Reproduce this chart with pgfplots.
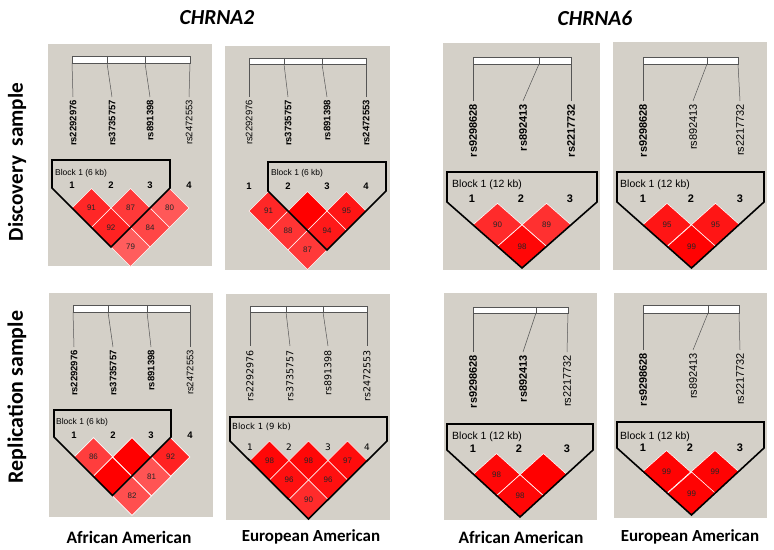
\documentclass[border=0pt]{standalone}
\usepackage{pgfplots}
\usepackage{pgfplotstable}
\pgfplotsset{compat=1.18}
\usepackage{fontspec}
\setmainfont{Carlito}
\newfontfamily\hv{Liberation Sans}
\newfontfamily\dv{DejaVu Sans}

\definecolor{hvgray}{RGB}{212,208,200}
\definecolor{hvline}{RGB}{85,85,85}

% D' x 100 for each marker pair, at the pair's diamond centre (pixel coords)
\pgfplotstableread{
x y t
91.5 208 91
130.5 208 87
169.5 208 80
111 227.5 92
150 227.5 84
130.5 247 79
}\tabA
\pgfplotstableread{
x y t
268.5 211 91
307.5 211 100
346.5 211 95
288 230.5 88
327 230.5 94
307.5 250 87
}\tabB
\pgfplotstableread{
x y t
497.5 224.8 90
546.5 224.8 89
522 246.4 98
}\tabC
\pgfplotstableread{
x y t
667 224.8 95
715.5 224.8 95
691.5 246.4 99
}\tabD
\pgfplotstableread{
x y t
93.5 457 86
132 457 100
170.5 457 92
112.5 476.5 100
151.5 476.5 81
132 496 82
}\tabE
\pgfplotstableread{
x y t
269.5 460.5 98
308.5 460.5 98
347.5 460.5 97
289 480 96
328 480 96
308.5 499.5 90
}\tabF
\pgfplotstableread{
x y t
496.5 474.6 98
543.5 474.6 100
520 495.8 98
}\tabG
\pgfplotstableread{
x y t
666.5 472 99
715 472 99
691.5 493.5 99
}\tabH

\newcommand\fsz[1]{\fontsize{#1}{#1}\selectfont}
% panel background, marker bar, bar separators, connector, rotated snp name, marker number
\newcommand\panel[4]{\fill[hvgray] (axis cs:#1,#2) rectangle (axis cs:#3,#4);}
\newcommand\snpbar[4]{\draw[hvline, fill=white, line width=0.6bp] (axis cs:#1,#2) rectangle (axis cs:#3,#4);}
\newcommand\barsep[3]{\draw[hvline, line width=0.6bp] (axis cs:#1,#2) -- (axis cs:#1,#3);}
\newcommand\conn[4]{\draw[hvline, line width=0.5bp] (axis cs:#1,#2) -- (axis cs:#3,#4);}
\newcommand\snp[4]{\node[rotate=90, anchor=east, inner sep=0pt, font=#4] at (axis cs:#1,#2) {#3};}
\newcommand\mk[4]{\node[inner sep=0pt, font=#4] at (axis cs:#1,#2) {#3};}
% block outline corners: name, left, right, top, side bottom, apex x, apex y
% (drawn after the axis, so that the outline lies over the diamonds)
\newcommand\block[7]{%
  \coordinate (#1a) at (axis cs:#2,#4); \coordinate (#1b) at (axis cs:#3,#4);
  \coordinate (#1c) at (axis cs:#3,#5); \coordinate (#1d) at (axis cs:#6,#7);
  \coordinate (#1e) at (axis cs:#2,#5);}
\newcommand\drawblock[1]{\draw[black, line width=1.6bp, line join=miter]
  (#1a) -- (#1b) -- (#1c) -- (#1d) -- (#1e) -- cycle;}
% diamonds coloured by D', then their labels (none where D' = 1)
\newcommand\ldplot[3]{%
  \addplot[only marks, scatter, mark=square*, mark size=#2,
    scatter/use mapped color={draw=white, fill=mapped color},
    every mark/.append style={line width=0.6bp, #3},
    point meta=explicit] table[x=x, y=y, meta=t] {#1};
  \addplot[draw=none, mark=none, point meta=explicit symbolic,
    nodes near coords={\ifnum\pgfplotspointmeta<100 \pgfplotspointmeta\fi},
    every node near coord/.append style={anchor=center, inner sep=0pt, text=black!85, font=\hv\fsz{8}}]
    table[x=x, y=y, meta=t] {#1};}

\newcommand\rb{\hv\bfseries\fsz{9.5}}
\newcommand\rr{\hv\fsz{9.5}}
\newcommand\Rb{\hv\bfseries\fsz{11}}
\newcommand\Rr{\hv\fsz{11}}

\begin{document}
\begin{tikzpicture}
\begin{axis}[
  x=1bp, y=1bp, y dir=reverse,
  xmin=0, xmax=774, ymin=0, ymax=550,
  scale only axis, hide axis, clip=false,
  colormap={hvld}{rgb255=(255,223,223) rgb255=(255,0,0)},
  point meta min=50, point meta max=100,
]
\fill[white] (axis cs:0,0) rectangle (axis cs:774,550);

% ---------------- titles
\node[font=\bfseries\itshape\fsz{21.5}] at (axis cs:217,18) {CHRNA2};
\node[font=\bfseries\itshape\fsz{21.5}] at (axis cs:595,18) {CHRNA6};
\node[rotate=90, font=\bfseries\fsz{21.3}] at (axis cs:17,162) {Discovery\ \ sample};
\node[rotate=90, font=\bfseries\fsz{22}] at (axis cs:17,397) {Replication sample};
\node[font=\bfseries\fsz{17.5}] at (axis cs:129,537) {African American};
\node[font=\bfseries\fsz{17}] at (axis cs:311,537) {European American};
\node[font=\bfseries\fsz{17.5}] at (axis cs:521,537) {African American};
\node[font=\bfseries\fsz{17}] at (axis cs:690,537) {European American};

% ---------------- panel 1: discovery, CHRNA2, African American
\panel{48}{44}{212}{266}
\snpbar{72}{56}{190}{63}
\barsep{107}{56}{63} \barsep{145}{56}{63}
\conn{72}{63}{73}{97} \conn{107}{63}{112}{97} \conn{145}{63}{150}{97} \conn{190}{63}{189}{97}
\snp{73}{100}{rs2292976}{\rb} \snp{112}{100}{rs3735757}{\rb}
\snp{150}{100}{rs891398}{\rb} \snp{189}{100}{rs2472553}{\rr}
\mk{72}{185}{1}{\rb} \mk{111}{185}{2}{\rb} \mk{150}{185}{3}{\rb} \mk{189}{185}{4}{\rb}
\ldplot{\tabA}{13.8bp}{rotate=45}
\block{pA}{52}{170}{160}{188}{111}{247}
\node[anchor=west, inner sep=0pt, font=\hv\fsz{8.5}] at (axis cs:55,173) {Block 1 (6 kb)};

% ---------------- panel 2: discovery, CHRNA2, European American
\panel{225}{46}{390}{270}
\snpbar{249}{58}{366}{64}
\barsep{284}{58}{64} \barsep{322}{58}{64}
\conn{249}{64}{249}{97} \conn{284}{64}{288}{97} \conn{322}{64}{327}{97} \conn{366}{64}{366}{97}
\snp{249}{100}{rs2292976}{\rr} \snp{288}{100}{rs3735757}{\rb}
\snp{327}{100}{rs891398}{\rb} \snp{366}{100}{rs2472553}{\rb}
\mk{249}{186}{1}{\rb} \mk{288}{186}{2}{\rb} \mk{327}{186}{3}{\rb} \mk{366}{186}{4}{\rb}
\ldplot{\tabB}{13.8bp}{rotate=45}
\block{pB}{268}{386}{162}{191}{327}{250}
\node[anchor=west, inner sep=0pt, font=\hv\fsz{8.5}] at (axis cs:271,173) {Block 1 (6 kb)};

% ---------------- panel 3: discovery, CHRNA6, African American
\panel{443}{43}{600}{270}
\snpbar{473}{57}{571}{64}
\barsep{539}{57}{64}
\conn{473}{64}{473}{101} \conn{539}{64}{523}{101} \conn{571}{64}{571}{101}
\snp{473}{104}{rs9298628}{\Rb} \snp{523}{104}{rs892413}{\Rb} \snp{571}{104}{rs2217732}{\Rb}
\mk{472}{199}{1}{\Rb} \mk{521}{199}{2}{\Rb} \mk{570}{199}{3}{\Rb}
\ldplot{\tabC}{17.3bp}{yscale=0.88, rotate=45}
\block{pC}{447}{597}{172}{202}{522}{268}
\node[anchor=west, inner sep=0pt, font=\hv\fsz{10.5}] at (axis cs:452,185) {Block 1 (12 kb)};

% ---------------- panel 4: discovery, CHRNA6, European American
\panel{613}{42}{767}{270}
\snpbar{643}{57}{738}{64}
\barsep{707}{57}{64}
\conn{643}{64}{643}{101} \conn{707}{64}{693}{101} \conn{738}{64}{740}{101}
\snp{643}{104}{rs9298628}{\Rb} \snp{693}{104}{rs892413}{\Rr} \snp{740}{104}{rs2217732}{\Rr}
\mk{643}{199}{1}{\Rb} \mk{691}{199}{2}{\Rb} \mk{740}{199}{3}{\Rb}
\ldplot{\tabD}{17.1bp}{yscale=0.89, rotate=45}
\block{pD}{617}{764}{172}{202}{691.5}{268}
\node[anchor=west, inner sep=0pt, font=\hv\fsz{10.5}] at (axis cs:620,185) {Block 1 (12 kb)};

% ---------------- panel 5: replication, CHRNA2, African American
\panel{49}{293}{213}{517}
\snpbar{73}{305}{190}{312}
\barsep{108}{305}{312} \barsep{147}{305}{312}
\conn{73}{312}{74}{347} \conn{108}{312}{113}{347} \conn{147}{312}{151}{347} \conn{190}{312}{190}{347}
\snp{74}{350}{rs2292976}{\rb} \snp{113}{350}{rs3735757}{\rb}
\snp{151}{350}{rs891398}{\rb} \snp{190}{350}{rs2472553}{\rr}
\mk{74}{435}{1}{\rb} \mk{113}{435}{2}{\rb} \mk{151}{435}{3}{\rb} \mk{190}{435}{4}{\rb}
\ldplot{\tabE}{13.7bp}{rotate=45}
\block{pE}{54}{171}{410}{437}{112.5}{495.5}
\node[anchor=west, inner sep=0pt, font=\hv\fsz{8.5}] at (axis cs:56,422) {Block 1 (6 kb)};

% ---------------- panel 6: replication, CHRNA2, European American
\panel{226}{294}{390}{520}
\snpbar{250}{306}{367}{312}
\barsep{286}{306}{312} \barsep{323}{306}{312}
\conn{250}{312}{250}{346} \conn{286}{312}{290}{346} \conn{323}{312}{328}{346} \conn{367}{312}{367}{346}
\snp{250}{350}{rs2292976}{\dv\fsz{9.5}} \snp{290}{350}{rs3735757}{\dv\fsz{9.5}}
\snp{328}{350}{rs891398}{\dv\fsz{9.5}} \snp{367}{350}{rs2472553}{\dv\fsz{9.5}}
\mk{250}{447}{1}{\dv\fsz{9}} \mk{289}{447}{2}{\dv\fsz{9}} \mk{328}{447}{3}{\dv\fsz{9}} \mk{367}{447}{4}{\dv\fsz{9}}
\ldplot{\tabF}{13.8bp}{rotate=45}
\block{pF}{230}{387}{417}{441}{308.5}{519}
\node[anchor=west, inner sep=0pt, font=\dv\fsz{8.5}] at (axis cs:232,427) {Block 1 (9 kb)};

% ---------------- panel 7: replication, CHRNA6, African American
\panel{444}{293}{597}{520}
\snpbar{473}{307}{568}{313}
\barsep{536}{307}{313}
\conn{473}{313}{473}{352} \conn{536}{313}{523}{352} \conn{568}{313}{567}{352}
\snp{473}{355}{rs9298628}{\Rb} \snp{523}{355}{rs892413}{\Rb} \snp{567}{355}{rs2217732}{\Rr}
\mk{473}{449}{1}{\Rb} \mk{519}{449}{2}{\Rb} \mk{567}{449}{3}{\Rb}
\ldplot{\tabG}{16.6bp}{yscale=0.9, rotate=45}
\block{pG}{447}{593}{424}{450}{520}{517}
\node[anchor=west, inner sep=0pt, font=\hv\fsz{10.5}] at (axis cs:452,437) {Block 1 (12 kb)};

% ---------------- panel 8: replication, CHRNA6, European American
\panel{614}{293}{767}{518}
\snpbar{643}{305}{739}{313}
\barsep{708}{305}{313}
\conn{643}{313}{643}{350} \conn{708}{313}{693}{350} \conn{739}{313}{740}{350}
\snp{643}{353}{rs9298628}{\Rb} \snp{693}{353}{rs892413}{\Rr} \snp{740}{353}{rs2217732}{\Rr}
\mk{643}{448}{1}{\Rb} \mk{690}{448}{2}{\Rb} \mk{740}{448}{3}{\Rb}
\ldplot{\tabH}{17.1bp}{yscale=0.89, rotate=45}
\block{pH}{617}{764}{422}{448}{691.5}{515}
\node[anchor=west, inner sep=0pt, font=\hv\fsz{10.5}] at (axis cs:620,437) {Block 1 (12 kb)};
\end{axis}
\drawblock{pA} \drawblock{pB} \drawblock{pC} \drawblock{pD}
\drawblock{pE} \drawblock{pF} \drawblock{pG} \drawblock{pH}
\end{tikzpicture}
\end{document}
